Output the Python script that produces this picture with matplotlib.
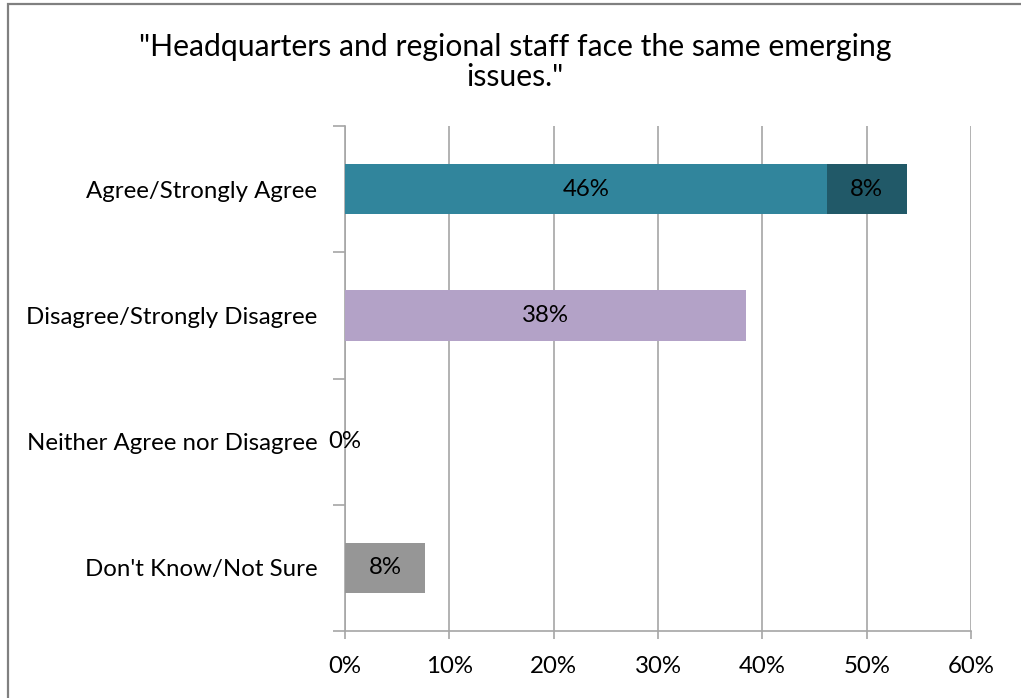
import matplotlib
matplotlib.use('Agg')
import matplotlib.pyplot as plt
import matplotlib.patches as patches
from matplotlib.ticker import PercentFormatter, FixedLocator

plt.rcParams['font.family'] = ['Lato', 'DejaVu Sans']

# survey answers, 13 respondents
categories = ['Agree/Strongly Agree', 'Disagree/Strongly Disagree',
              'Neither Agree nor Disagree', "Don't Know/Not Sure"]
main_values = [6 / 13, 5 / 13, 0.0, 1 / 13]
extra_values = [1 / 13, 0.0, 0.0, 0.0]   # second segment, only the agree row has one
main_colors = ['#31859C', '#B3A2C7', '#B3A2C7', '#969696']
extra_color = '#215968'
x_ticks = [0, 0.1, 0.2, 0.3, 0.4, 0.5, 0.6]
title = '"Headquarters and regional staff face the same emerging\nissues."'

fs = 17.3

fig = plt.figure(figsize=(10.21, 6.98), dpi=100)
ax = fig.add_axes([345 / 1021, 1 - 631 / 698, 626 / 1021, 505 / 698])

# outer frame of the chart area
fig.patches.append(patches.Rectangle((8 / 1021, -0.05), 1.2, 1 - 4 / 698 + 0.05,
                                     transform=fig.transFigure, fill=False,
                                     edgecolor='#808080', linewidth=1.6))

ypos = list(range(len(categories)))
ax.barh(ypos, main_values, height=0.4, color=main_colors, zorder=3)
ax.barh(ypos[0], extra_values[0], left=main_values[0], height=0.4,
        color=extra_color, zorder=3)

for y, v in zip(ypos, main_values):
    ax.text(v / 2, y, '{:.0f}%'.format(v * 100), ha='center', va='center',
            fontsize=fs, color='#000000', zorder=4)
ax.text(main_values[0] + extra_values[0] / 2, 0, '{:.0f}%'.format(extra_values[0] * 100),
        ha='center', va='center', fontsize=fs, color='#000000', zorder=4)

ax.set_xlim(0, 0.6)
ax.set_ylim(len(categories) - 0.5, -0.5)
ax.xaxis.set_major_locator(FixedLocator(x_ticks))
ax.xaxis.set_major_formatter(PercentFormatter(1.0, decimals=0))
ax.grid(axis='x', color='#A6A6A6', linewidth=1.2, zorder=0)

ax.set_yticks(ypos)
ax.set_yticklabels(categories)
ax.set_yticks([i - 0.5 for i in range(len(categories) + 1)], minor=True)

for side in ['top', 'right']:
    ax.spines[side].set_visible(False)
for side in ['left', 'bottom']:
    ax.spines[side].set_color('#A6A6A6')
    ax.spines[side].set_linewidth(1.2)

ax.tick_params(axis='x', length=6, width=1.2, color='#A6A6A6', pad=12,
               labelsize=fs)
ax.tick_params(axis='y', which='major', length=0, pad=20, labelsize=fs)
ax.tick_params(axis='y', which='minor', length=9, width=1.2, color='#A6A6A6')

fig.text(515 / 1021, 1 - 62 / 698, title, ha='center', va='center',
         fontsize=21.7, linespacing=1.1)

fig.savefig('out.png', dpi=100, facecolor='white')
